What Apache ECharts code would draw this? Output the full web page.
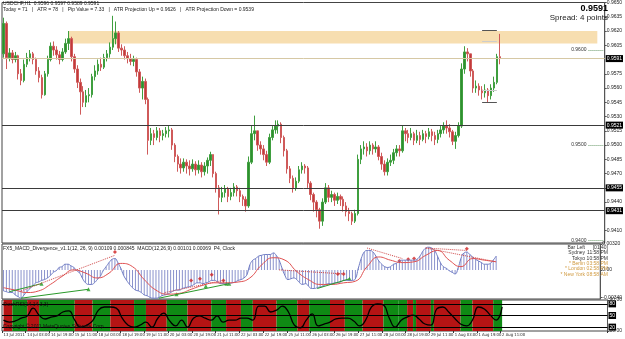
<!DOCTYPE html>
<html>
<head>
<meta charset="utf-8">
<script src="https://cdn.jsdelivr.net/npm/echarts@6/dist/echarts.min.js"></script>
<style>
html, body { margin: 0; padding: 0; background: #fff; }
#chart { width: 625px; height: 339px; }
</style>
</head>
<body>
<div id="chart"></div>
<script>
// USDCHF H1 chart, prices kept in pips (9591 -> 0.9591), one candle = 2 hours
var slotCount = 204;   // time axis keeps empty room on the right like MT4 chart shift
var labelEvery = 8;
var tickLabels = ['13 Jul 2011', '14 Jul 03:00', '14 Jul 19:00', '15 Jul 11:00', '18 Jul 03:00', '18 Jul 19:00',
  '19 Jul 11:00', '20 Jul 03:00', '20 Jul 19:00', '21 Jul 11:00', '22 Jul 03:00', '22 Jul 19:00', '25 Jul 11:00',
  '26 Jul 03:00', '26 Jul 19:00', '27 Jul 11:00', '28 Jul 03:00', '28 Jul 19:00', '29 Jul 11:00', '1 Aug 03:00',
  '1 Aug 19:00', '2 Aug 11:00'];

var firstOpen = 9596;
var closes = [9628, 9592, 9597, 9590, 9594, 9575, 9568, 9585, 9592, 9596,
  9590, 9578, 9571, 9553, 9575, 9590, 9604, 9600, 9595, 9590,
  9598, 9607, 9612, 9593, 9580, 9566, 9556, 9545, 9552, 9553,
  9572, 9578, 9585, 9582, 9592, 9596, 9603, 9612, 9618, 9602,
  9600, 9594, 9591, 9588, 9590, 9577, 9560, 9567, 9548, 9505,
  9512, 9508, 9515, 9510, 9512, 9515, 9516, 9500, 9488, 9480,
  9476, 9482, 9478, 9475, 9480, 9474, 9479, 9472, 9478, 9484,
  9490, 9470, 9455, 9445, 9450, 9454, 9446, 9450, 9456, 9452,
  9446, 9443, 9436, 9482, 9512, 9515, 9500, 9496, 9490, 9482,
  9508, 9516, 9520, 9522, 9508, 9494, 9475, 9465, 9455, 9462,
  9474, 9478, 9476, 9460, 9448, 9440, 9432, 9420, 9440, 9455,
  9445, 9448, 9442, 9446, 9443, 9436, 9430, 9428, 9420, 9428,
  9485, 9496, 9498, 9494, 9500, 9496, 9498, 9488, 9480, 9472,
  9482, 9484, 9492, 9496, 9494, 9515, 9512, 9508, 9512, 9505,
  9510, 9506, 9512, 9509, 9514, 9510, 9506, 9512, 9516, 9520,
  9518, 9514, 9504, 9510, 9520, 9580, 9598, 9596, 9578, 9560,
  9562, 9558, 9555, 9558, 9552, 9560, 9566, 9593, 9591];
var highs = [9634, 9630, 9602, 9600, 9598, 9595, 9580, 9590, 9597, 9600,
  9598, 9592, 9582, 9574, 9578, 9594, 9608, 9609, 9604, 9599,
  9602, 9612, 9620, 9614, 9596, 9584, 9570, 9562, 9558, 9560,
  9575, 9584, 9590, 9592, 9596, 9600, 9608, 9636, 9630, 9620,
  9606, 9604, 9598, 9596, 9594, 9592, 9580, 9572, 9570, 9550,
  9518, 9516, 9519, 9518, 9516, 9519, 9520, 9518, 9502, 9490,
  9486, 9486, 9485, 9484, 9485, 9483, 9484, 9482, 9482, 9487,
  9493, 9490, 9472, 9458, 9456, 9458, 9456, 9455, 9460, 9458,
  9455, 9448, 9446, 9488, 9521, 9531, 9515, 9504, 9500, 9494,
  9512, 9520, 9526, 9526, 9524, 9510, 9496, 9478, 9468, 9466,
  9478, 9482, 9480, 9478, 9462, 9450, 9442, 9434, 9444, 9460,
  9458, 9452, 9450, 9450, 9448, 9446, 9440, 9434, 9430, 9432,
  9490, 9500, 9504, 9502, 9504, 9502, 9504, 9500, 9492, 9484,
  9486, 9490, 9496, 9500, 9500, 9521, 9518, 9516, 9518, 9514,
  9516, 9514, 9516, 9515, 9518, 9517, 9514, 9516, 9520, 9524,
  9526, 9522, 9516, 9514, 9524, 9586, 9604, 9602, 9596, 9580,
  9568, 9565, 9562, 9564, 9560, 9564, 9572, 9596, 9617];
var lows = [9592, 9580, 9588, 9586, 9587, 9569, 9563, 9566, 9582, 9588,
  9585, 9574, 9566, 9549, 9552, 9572, 9588, 9594, 9590, 9585,
  9588, 9596, 9600, 9588, 9576, 9560, 9532, 9540, 9540, 9545,
  9550, 9568, 9574, 9578, 9580, 9588, 9592, 9600, 9606, 9598,
  9594, 9590, 9586, 9584, 9583, 9572, 9555, 9548, 9543, 9490,
  9500, 9500, 9505, 9503, 9505, 9508, 9508, 9495, 9482, 9472,
  9470, 9472, 9470, 9468, 9472, 9468, 9470, 9466, 9468, 9470,
  9478, 9466, 9450, 9427, 9440, 9445, 9440, 9442, 9446, 9446,
  9440, 9436, 9430, 9434, 9480, 9505, 9494, 9490, 9484, 9478,
  9480, 9505, 9512, 9512, 9502, 9488, 9470, 9460, 9450, 9452,
  9460, 9470, 9470, 9455, 9442, 9430, 9424, 9412, 9415, 9438,
  9440, 9440, 9436, 9438, 9436, 9430, 9425, 9420, 9416, 9418,
  9426, 9480, 9490, 9488, 9490, 9490, 9492, 9484, 9474, 9468,
  9468, 9478, 9480, 9488, 9488, 9492, 9504, 9502, 9505, 9500,
  9502, 9500, 9504, 9502, 9506, 9504, 9500, 9502, 9508, 9512,
  9512, 9508, 9500, 9496, 9508, 9518, 9575, 9588, 9572, 9555,
  9555, 9552, 9548, 9550, 9545, 9548, 9556, 9564, 9585];

var priceTicks = [9650, 9635, 9620, 9605, 9575, 9560, 9545, 9530, 9515, 9500, 9485, 9470, 9455, 9440, 9410];
var bidPrice = 9591;
var levelLines = [9521, 9455, 9431];
var roundLevels = [9600, 9500, 9400];
var atrZone = [9607, 9620];
var atrUp = [9621, 9609];
var atrDown = [9558, 9545];

// MACD panel, values in units of 0.0001
var macdHist = [-26, -27, -28, -28, -31, -33, -35, -31, -27, -23,
  -20, -16, -15, -13, -12, -10, -7, -3, -1, 3,
  4, 7, 7, 5, 3, -1, -4, -11, -16, -18,
  -18, -16, -12, -8, -1, 4, 9, 13, 14, 9,
  2, -7, -13, -18, -22, -25, -26, -28, -31, -32,
  -34, -35, -35, -34, -32, -31, -30, -28, -26, -25,
  -25, -23, -22, -21, -20, -18, -16, -16, -17, -16,
  -15, -13, -13, -15, -17, -17, -17, -17, -16, -15,
  -13, -12, -10, -6, 6, 12, 14, 17, 18, 19,
  19, 19, 21, 18, 12, 2, -7, -12, -11, -10,
  -12, -16, -18, -17, -20, -23, -23, -22, -21, -20,
  -18, -17, -17, -16, -16, -15, -13, -13, -13, -13,
  -11, 2, 14, 22, 24, 24, 22, 17, 11, 7,
  4, 3, 4, 7, 8, 11, 12, 12, 12, 12,
  12, 13, 17, 23, 27, 28, 27, 24, 17, 9,
  4, 2, -1, -3, -5, 2, 14, 21, 22, 19,
  16, 13, 11, 9, 7, 7, 8, 12, 17];
var signalStep = 4;
var macdSignal = [-22, -25, -28, -26, -18, -8, 0, -4, -10, -4, 8, 4, -12, -25, -30,
  -29, -24, -19, -16, -16, -15, -10, 6, 15, 12, -2, -12, -18, -18, -16,
  -14, 4, 16, 12, 9, 10, 18, 24, 12, 4, 14, 12, 10];
var bullDiv = [[[6, -35], [29, -24]], [[2, -27], [13, -17]], [[53, -35], [77, -17]], [[107, -23], [118, -11]]];
var bearDiv = [[[6, -26], [38, 18]], [[55, -28], [75, -13]], [[94, 0], [116, -5]], [[124, 27], [136, 14]], [[144, 27], [158, 24]], [[144, 27], [168, 10]]];
var bullMarks = [[13, -17], [29, -24], [59, -30], [69, -20], [76, -17], [77, -17], [118, -11]];
var bearMarks = [[38, 22], [64, -13], [67, -11], [71, -6], [75, -13], [114, -5], [116, -5], [135, 11], [138, 13], [140, 14], [158, 26]];

// bottom oscillator, one value every 2 candles
var oscStep = 2;
var oscValues = [38, 33, 36, 43, 49, 69, 51, 41, 46, 49, 59, 62, 38, 20, 25, 36, 64, 72, 72, 69,
  43, 25, 20, 25, 33, 20, 43, 56, 36, 23, 38, 20, 43, 49, 43, 38, 49, 33, 38, 38,
  43, 43, 38, 74, 74, 59, 64, 74, 59, 25, 18, 38, 54, 23, 28, 33, 41, 43, 43, 36,
  23, 38, 72, 80, 77, 43, 20, 38, 46, 51, 41, 28, 25, 67, 72, 59, 43, 28, 23, 38,
  72, 67, 51, 38, 72];
var oscLevels = [80, 50, 20];
var oscBands = [[0, 3, 'r'], [3, 8, 'g'], [8, 12, 'r'], [12, 24, 'g'], [24, 30, 'r'], [30, 36, 'g'], [36, 44, 'r'],
  [44, 48, 'g'], [48, 55, 'r'], [55, 62, 'g'], [62, 70, 'r'], [70, 75, 'g'], [75, 80, 'r'], [80, 84, 'g'],
  [84, 92, 'r'], [92, 99, 'g'], [99, 103, 'r'], [103, 110, 'g'], [110, 115, 'r'], [115, 121, 'g'], [121, 128, 'r'],
  [128, 133, 'g'], [133, 136, 'g'], [136, 138, 'r'], [138, 139, 'g'], [139, 141, 'r'], [141, 144, 'r'],
  [144, 145, 'g'], [145, 154, 'r'], [154, 158, 'g'], [158, 165, 'r'], [165, 168, 'g']];

var font = 'Liberation Sans';
var narrowFont = '"Liberation Sans Narrow", "DejaVu Sans Condensed", "Liberation Sans"';
var slots = [];
for (var s = 0; s < slotCount; s++) slots.push(String(s));

var candles = closes.map(function (c, i) {
  var o = i === 0 ? firstOpen : closes[i - 1];
  return [o, c, lows[i], highs[i]];
});

function pxLabel(v) { return (v / 10000).toFixed(4); }
function boxLabel(txt) {
  return { show: true, position: 'end', distance: 1, formatter: txt, color: '#fff', backgroundColor: '#000',
    fontSize: 5, fontFamily: font, padding: [1, 1] };
}

var priceMarks = [];
levelLines.forEach(function (v) {
  priceMarks.push({ yAxis: v, lineStyle: { color: '#3a3a3a', width: 1, type: 'solid' }, label: boxLabel(pxLabel(v)) });
});
priceMarks.push({ yAxis: bidPrice, lineStyle: { color: '#d6c8a4', width: 1, type: 'solid' }, label: boxLabel(pxLabel(bidPrice)) });
roundLevels.forEach(function (v) {
  priceMarks.push([
    { coord: ['198', v], lineStyle: { color: '#6a9a6a', width: 1, type: 'dotted' },
      label: { show: true, position: 'start', formatter: pxLabel(v), fontSize: 5, color: '#333', fontFamily: font, distance: 2 } },
    { coord: ['203', v] }
  ]);
});
atrUp.concat(atrDown).forEach(function (v, k) {
  var dark = (k === 0 || k === 3);
  priceMarks.push([
    { coord: ['162', v], lineStyle: { color: dark ? '#555' : '#ccc', width: 1, type: 'solid' }, label: { show: false } },
    { coord: ['167', v] }
  ]);
});

var bandAreas = oscBands.map(function (b) {
  return [{ xAxis: String(b[0]), itemStyle: { color: b[2] === 'r' ? '#b51414' : '#0f8a14' } }, { xAxis: String(b[1]) }];
});

var signalData = macdSignal.map(function (v, k) { return [String(k * signalStep), v]; });
var oscData = oscValues.map(function (v, k) { return [String(Math.min(k * oscStep, closes.length - 1)), v]; });

var series = [
  {
    type: 'candlestick', xAxisIndex: 0, yAxisIndex: 0, data: candles, barWidth: 2,
    itemStyle: { color: '#2f8f2f', color0: '#c23a3a', borderColor: '#3f9f3f', borderColor0: '#cf5a5a', borderWidth: 1 },
    markLine: { silent: true, symbol: 'none', animation: false, data: priceMarks },
    markArea: { silent: true, data: [[{ xAxis: '22', yAxis: atrZone[0], itemStyle: { color: '#f7deb0' } }, { xAxis: '201', yAxis: atrZone[1] }]] }
  },
  {
    type: 'bar', xAxisIndex: 1, yAxisIndex: 1, data: macdHist, barWidth: 1,
    itemStyle: { color: '#8a92cc' }, animation: false
  },
  {
    type: 'line', xAxisIndex: 1, yAxisIndex: 1, data: macdHist, symbol: 'none', smooth: true,
    lineStyle: { color: '#6f7cc4', width: 1 }
  },
  {
    type: 'line', xAxisIndex: 1, yAxisIndex: 1, data: signalData, symbol: 'none', smooth: true,
    lineStyle: { color: '#e05050', width: 1 }
  }
];
bullDiv.forEach(function (seg) {
  series.push({ type: 'line', xAxisIndex: 1, yAxisIndex: 1, symbol: 'none',
    data: seg.map(function (p) { return [String(p[0]), p[1]]; }), lineStyle: { color: '#2a9a2a', width: 1 } });
});
bearDiv.forEach(function (seg) {
  series.push({ type: 'line', xAxisIndex: 1, yAxisIndex: 1, symbol: 'none',
    data: seg.map(function (p) { return [String(p[0]), p[1]]; }), lineStyle: { color: '#d04848', width: 1, type: 'dotted' } });
});
series.push({ type: 'scatter', xAxisIndex: 1, yAxisIndex: 1, symbol: 'triangle', symbolSize: 4,
  data: bullMarks.map(function (p) { return [String(p[0]), p[1]]; }), itemStyle: { color: '#1f9a1f' } });
series.push({ type: 'scatter', xAxisIndex: 1, yAxisIndex: 1, symbol: 'diamond', symbolSize: 4,
  data: bearMarks.map(function (p) { return [String(p[0]), p[1]]; }), itemStyle: { color: '#d02020' } });
series.push({
  type: 'line', xAxisIndex: 2, yAxisIndex: 2, data: oscData, symbol: 'none', smooth: true,
  lineStyle: { color: '#000', width: 1.3 }, z: 5,
  markArea: { silent: true, data: bandAreas },
  markLine: { silent: true, symbol: 'none', data: oscLevels.map(function (v) {
    return { yAxis: v, lineStyle: { color: '#000', width: 1.2, type: 'solid' }, label: boxLabel(String(v)) };
  }) }
});

function showTick(i) { return i % labelEvery === 0 && i / labelEvery < tickLabels.length; }
function xAxisFor(gi, showLabels) {
  return {
    type: 'category', gridIndex: gi, data: slots, boundaryGap: true,
    axisLine: { show: false },
    axisTick: { show: showLabels, length: 2, lineStyle: { color: '#333' }, interval: showTick },
    axisLabel: {
      show: showLabels, fontSize: 4.2, color: '#222', fontFamily: narrowFont, align: 'left', margin: 2,
      showMinLabel: true, hideOverlap: false, interval: showTick,
      formatter: function (v, i) { return tickLabels[i / labelEvery] || ''; }
    },
    splitLine: { show: false }
  };
}
function yAxisFor(gi, min, max, ticks, fmt) {
  return {
    type: 'value', gridIndex: gi, position: 'right', min: min, max: max, scale: true,
    axisLine: { show: true, lineStyle: { color: '#555' } },
    axisTick: { show: true, length: 2, customValues: ticks, lineStyle: { color: '#555' } },
    axisLabel: { fontSize: 5, color: '#222', fontFamily: font, margin: 2, customValues: ticks, formatter: fmt },
    splitLine: { show: false }
  };
}

var txt = function (x, y, text, opt) {
  opt = opt || {};
  return { type: 'text', x: x, y: y, z: 100, silent: true, style: {
    text: text, fill: opt.fill || '#222', align: opt.align || 'left', verticalAlign: 'top',
    font: (opt.weight || 'normal') + ' ' + (opt.size || 5) + 'px "' + font + '"' } };
};
var clockNames = ['Bar Left', 'Sydney', 'Tokyo', '* Berlin', '* London', '* New York'];
var clockTimes = ['[01:40]', '11:58 PM', '10:58 PM', '03:58 PM', '02:58 PM', '08:58 AM'];
var graphics = [
  txt(3, 1, 'USDCHF,H1  0.9596 0.9597 0.9589 0.9591'),
  txt(3, 7, 'Today = 71   |   ATR = 78   |   Pip Value = 7.33   |   ATR Projection Up = 0.9626   |   ATR Projection Down = 0.9539'),
  txt(608, 4, '0.9591', { align: 'right', size: 9, weight: 'bold', fill: '#000' }),
  txt(608, 14, 'Spread: 4 points', { align: 'right', size: 8, fill: '#222' }),
  txt(3, 246, 'FX5_MACD_Divergence_v1.1(12, 26, 9) 0.00109 0.000845  MACD(12,26,9) 0.00101 0.00069  P4, Clock'),
  txt(3, 302, 'StochRSI(14,14,3,3)', { fill: '#111' }),
  txt(3, 324, 'Copyright \u00a9 2011 MetaQuotes Software Corp.', { fill: '#111' })
];
clockNames.forEach(function (n, k) {
  var col = k < 3 ? '#333' : '#d09a40';
  graphics.push(txt(585, 245 + k * 5.4, n, { align: 'right', fill: col }));
  graphics.push(txt(608, 245 + k * 5.4, clockTimes[k], { align: 'right', fill: col }));
});

var chart = echarts.init(document.getElementById('chart'), null, { renderer: 'canvas' });
chart.setOption({
  animation: false,
  backgroundColor: '#fff',
  grid: [
    { left: 2, right: 14, top: 1, height: 242, show: true, borderColor: '#444', borderWidth: 1 },
    { left: 2, right: 14, top: 244, height: 55, show: true, borderColor: '#444', borderWidth: 1 },
    { left: 2, right: 14, top: 300, height: 31, show: true, borderColor: '#444', borderWidth: 1 }
  ],
  xAxis: [xAxisFor(0, false), xAxisFor(1, false), xAxisFor(2, true)],
  yAxis: [
    yAxisFor(0, 9397, 9650, priceTicks, pxLabel),
    yAxisFor(1, -36, 32, [32, 0, -34], function (v) { return v === 0 ? '0.00' : (v / 10000).toFixed(5); }),
    yAxisFor(2, 10, 90, [90, 10], function (v) { return v.toFixed(2); })
  ],
  graphic: graphics,
  series: series
});
</script>
</body>
</html>
